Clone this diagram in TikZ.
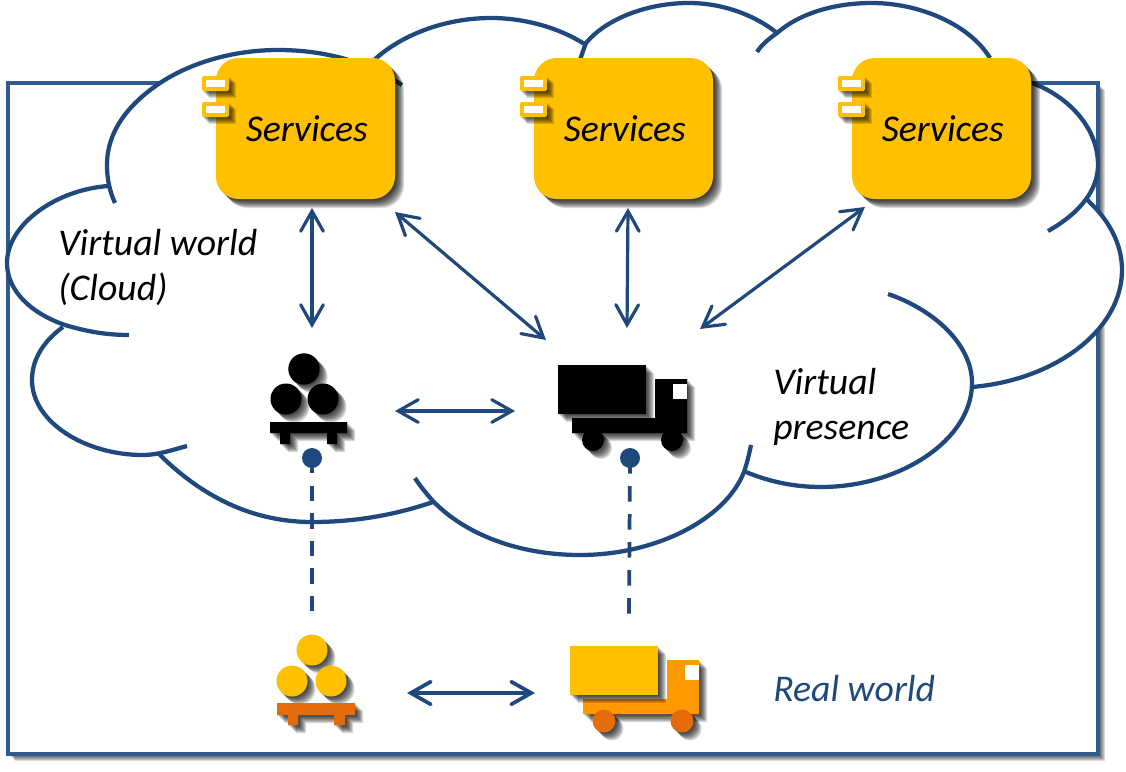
\documentclass[tikz,border=0pt]{standalone}
\usepackage{fontspec}
\setmainfont{Carlito}
\usetikzlibrary{arrows.meta}
\definecolor{cblue}{HTML}{1F497D}
\definecolor{rblue}{HTML}{2F5B8F}
\definecolor{cyel}{HTML}{FFC000}
\definecolor{corg}{HTML}{FF9900}
\definecolor{cdrk}{HTML}{E46C0A}
\tikzset{
  lobe/.style={draw=cblue,line width=3.2pt,line cap=butt},
  link/.style={draw=cblue,line width=2.4pt,{Straight Barb[length=15pt,width=17pt,line cap=round]}-{Straight Barb[length=15pt,width=17pt,line cap=round]}},
  tie/.style={draw=cblue,line width=2.8pt,dash pattern=on 11.5pt off 9.2pt},
  dotnode/.style={circle,fill=cblue,inner sep=0pt,minimum size=15pt},
  svc/.style={rectangle,fill=cyel,rounded corners=17pt,minimum width=134.25pt,minimum height=105.75pt,inner sep=0pt,font=\fontsize{28.3}{33.75}\selectfont\itshape,text=black},
  lbl/.style={anchor=west,align=left,inner sep=0pt,font=\fontsize{28.3}{33.75}\selectfont\itshape},
  tabo/.style={fill=cyel,rounded corners=1.5pt},
}
\newcommand\softshadow[2]{%
  \foreach \s in {1,...,#1}{%
    \begin{scope}[shift={(\s,\s)}]
      \fill[black,opacity=.14] #2;
    \end{scope}}}
\newcommand\servicebox[2]{%
  \softshadow{9}{[rounded corners=17pt] (#2,58) rectangle +(179,141)}
  \node[svc] (#1) at (#2+89.5,128.5) {\raisebox{-1pt}{\hspace*{2pt}Services}};
  \softshadow{7}{(#2-14,76) rectangle +(27,15)}
  \softshadow{7}{(#2-14,102) rectangle +(27,15)}
  \fill[tabo] (#2-14,76) rectangle +(27,15);
  \fill[white] (#2-10,80) rectangle +(19,7);
  \fill[tabo] (#2-14,102) rectangle +(27,15);
  \fill[white] (#2-10,106) rectangle +(19,7);
}
\begin{document}
\begin{tikzpicture}[x=.75pt,y=-.75pt]
\useasboundingbox (0,0) rectangle (1126,771);
\fill[white] (0,0) rectangle (1126,771);
% frame
\softshadow{7}{(8,83) rectangle (1098,754)}
\fill[white] (8,83) rectangle (1098,754);
\draw[rblue,line width=2.8pt] (8,83) rectangle (1098,754);
% cloud body
\fill[white] (108,186) -- (107,165) .. controls (107,130) and (130,103) .. (160,83)
  .. controls (190,63) and (233,50) .. (278,50) -- (372,62)
  .. controls (400,35) and (445,18) .. (491,18) .. controls (525,18) and (560,28) .. (586,43)
  .. controls (605,20) and (645,3) .. (689,3) .. controls (722,3) and (755,15) .. (777,33)
  .. controls (800,13) and (835,3) .. (872,3) .. controls (920,3) and (970,25) .. (990,58)
  -- (1032,83) .. controls (1065,95) and (1098,125) .. (1098,165)
  .. controls (1098,178) and (1092,190) .. (1085,198)
  .. controls (1108,218) and (1122,243) .. (1122,270) .. controls (1122,330) and (1055,380) .. (972,387)
  -- (972,383) .. controls (972,440) and (900,487) .. (821,487) .. controls (795,487) and (770,482) .. (746,472)
  -- (744,472) .. controls (725,520) and (655,555) .. (580,555) .. controls (520,555) and (465,535) .. (432,500)
  -- (433,502) .. controls (395,515) and (355,522) .. (312,522) .. controls (245,522) and (195,490) .. (158,453)
  -- (143,455) .. controls (85,455) and (32,422) .. (32,380) .. controls (32,358) and (45,340) .. (63,327)
  -- (65,325) .. controls (30,313) and (7,290) .. (7,263) .. controls (7,225) and (55,190) .. (108,186) -- cycle;
% cloud lobes
\draw[lobe] (115,203) .. controls (110,192) and (107,180) .. (107,165) .. controls (107,130) and (130,103) .. (160,83) .. controls (190,63) and (233,50) .. (278,50) .. controls (325,50) and (368,62) .. (402,85);
\draw[lobe] (372,62) .. controls (400,35) and (445,18) .. (491,18) .. controls (525,18) and (560,28) .. (586,45);
\draw[lobe] (580,60) .. controls (582,54) and (584,48) .. (586,43) .. controls (605,20) and (645,3) .. (689,3) .. controls (722,3) and (755,15) .. (777,33);
\draw[lobe] (757,52) .. controls (762,44) and (770,38) .. (777,33) .. controls (800,13) and (835,3) .. (872,3) .. controls (920,3) and (970,25) .. (990,58);
\draw[lobe] (1032,83) .. controls (1065,95) and (1098,125) .. (1098,165) .. controls (1098,190) and (1080,213) .. (1048,231);
\draw[lobe] (1085,198) .. controls (1108,218) and (1122,243) .. (1122,270) .. controls (1122,330) and (1055,380) .. (972,387);
\draw[lobe] (888,294) .. controls (935,310) and (972,345) .. (972,383) .. controls (972,440) and (900,487) .. (821,487) .. controls (795,487) and (770,482) .. (746,472);
\draw[lobe] (751,445) .. controls (749,455) and (747,463) .. (744,472) .. controls (725,520) and (655,555) .. (580,555) .. controls (520,555) and (465,535) .. (432,500) .. controls (426,493) and (420,486) .. (415,478);
\draw[lobe] (433,502) .. controls (395,515) and (355,522) .. (312,522) .. controls (245,522) and (195,490) .. (158,453);
\draw[lobe] (187,446) .. controls (172,450) and (158,455) .. (143,455) .. controls (85,455) and (32,422) .. (32,380) .. controls (32,358) and (45,340) .. (63,327);
\draw[lobe] (129,335) .. controls (105,335) and (85,331) .. (65,325) .. controls (30,313) and (7,290) .. (7,263) .. controls (7,225) and (55,190) .. (108,186);
% services
\servicebox{s1}{216}
\servicebox{s2}{534}
\servicebox{s3}{852}
% black pallet
\softshadow{8}{(304,369) circle[radius=15.7] (286,399) circle[radius=15.5] (323,399) circle[radius=15.5]}
\softshadow{8}{(270,422) rectangle (347,433) (280,433) rectangle (290,444) (327,433) rectangle (337,444)}
\fill[black] (304,369) circle[radius=15.7] (286,399) circle[radius=15.5] (323,399) circle[radius=15.5];
\fill[black] (270,422) rectangle (347,433) (280,433) rectangle (290,444) (327,433) rectangle (337,444);
% black truck
\softshadow{8}{(572,418) -- (655,418) -- (655,379) -- (687,379) -- (687,433) -- (572,433) -- cycle}
\softshadow{8}{(593,440) circle[radius=11] (672,440) circle[radius=11]}
\fill[black] (572,418) -- (655,418) -- (655,379) -- (687,379) -- (687,433) -- (572,433) -- cycle;
\fill[black] (593,440) circle[radius=11] (672,440) circle[radius=11];
\softshadow{8}{(558,365) rectangle (646,414)}
\fill[black] (558,365) rectangle (646,414);
\fill[white] (673,384) rectangle (687,399);
% orange pallet
\softshadow{8}{(312,650) circle[radius=15.5] (292,681) circle[radius=15.5] (331,681) circle[radius=15.5]}
\softshadow{8}{(277,703) rectangle (355,715) (288,715) rectangle (298,725) (334,715) rectangle (345,725)}
\fill[cyel] (312,650) circle[radius=15.5] (292,681) circle[radius=15.5] (331,681) circle[radius=15.5];
\fill[cdrk] (277,703) rectangle (355,715) (288,715) rectangle (298,725) (334,715) rectangle (345,725);
% orange truck
\softshadow{8}{(583,699) -- (667,699) -- (667,660) -- (699,660) -- (699,714) -- (583,714) -- cycle}
\softshadow{8}{(604,721) circle[radius=11.5] (682,721) circle[radius=11.5]}
\fill[corg] (583,699) -- (667,699) -- (667,660) -- (699,660) -- (699,714) -- (583,714) -- cycle;
\fill[cdrk] (604,721) circle[radius=11.5] (682,721) circle[radius=11.5];
\softshadow{8}{(570,646) rectangle (658,695)}
\fill[cyel] (570,646) rectangle (658,695);
\fill[white] (685,665) rectangle (699,680);
% anchor points
\coordinate (a1) at (312,208); \coordinate (a1e) at (312,328);
\coordinate (a2) at (395,212); \coordinate (a2e) at (546,340);
\coordinate (a3) at (628,208); \coordinate (a3e) at (627,328);
\coordinate (a4) at (865,207); \coordinate (a4e) at (700,329);
\coordinate (a5) at (395,411); \coordinate (a5e) at (515,411);
\coordinate (a6) at (407,693); \coordinate (a6e) at (535,693);
\coordinate (t1) at (312,611.3); \coordinate (t2) at (629,613.6);
\draw[link] (a1) -- (a1e);
\draw[link] (a2) -- (a2e);
\draw[link] (a3) -- (a3e);
\draw[link] (a4) -- (a4e);
\draw[link] (a5) -- (a5e);
\draw[link,line width=2.8pt] (a6) -- (a6e);
% real-virtual ties
\node[dotnode] (d1) at (312,458) {};
\node[dotnode] (d2) at (630,458) {};
\draw[tie] (d1.center) -- (t1);
\draw[tie,dash pattern=on 11.7pt off 9.3pt] (d2.center) -- (t2);
% labels
\node[lbl] (l1) at (58,267) {Virtual world\\(Cloud)};
\node[lbl] (l2) at (773,407) {Virtual\\presence};
\node[lbl,text=cblue] (l3) at (773,689) {Real world};
\end{tikzpicture}
\end{document}
